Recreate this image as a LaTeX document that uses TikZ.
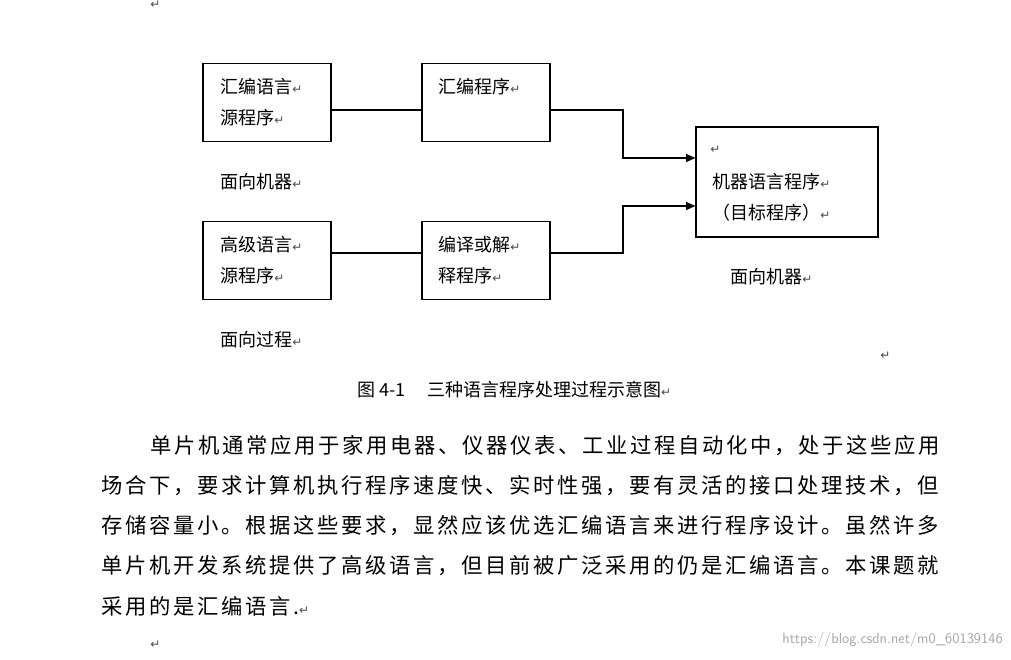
\documentclass[tikz,border=0pt]{standalone}
\usepackage{fontspec}
\setmainfont{Liberation Serif}
\newfontfamily\cjk{Noto Sans CJK SC}
\newfontfamily\cjkp[LetterSpace=12.5]{Noto Sans CJK SC}
\newfontfamily\sym{DejaVu Sans}
\newcommand{\rt}{{\sym\fontsize{9pt}{9pt}\selectfont\textcolor{black!70}{↵}}}
\usetikzlibrary{arrows.meta}
\begin{document}
\begin{tikzpicture}[x=0.75pt,y=-0.75pt,
  bx/.style={draw,line width=0.9pt},
  tx/.style={anchor=west,inner sep=0pt,font=\cjk\fontsize{13.5pt}{17pt}\selectfont},
  ln/.style={line width=0.9pt},
  ar/.style={ln,-{Triangle[length=7pt,width=6pt]}},
  pl/.style={anchor=west,inner sep=0pt,font=\cjkp\fontsize{16pt}{18pt}\selectfont}]
\useasboundingbox[fill=white] (0,0) rectangle (1011,660);
\node[bx,minimum width=96pt,minimum height=59pt,inner sep=0pt] (A) at (267,102.5) {};
\node[bx,minimum width=96pt,minimum height=59pt,inner sep=0pt] (B) at (486,102.5) {};
\node[bx,minimum width=136.5pt,minimum height=82.5pt,inner sep=0pt] (C) at (787,182) {};
\node[bx,minimum width=96pt,minimum height=59pt,inner sep=0pt] (D) at (267,260.5) {};
\node[bx,minimum width=96pt,minimum height=59pt,inner sep=0pt] (E) at (486,260.5) {};
\node[tx] (a1) at (220,87) {汇编语言\rt};
\node[tx] (a2) at (220,118) {源程序\rt};
\node[tx] (b1) at (438,87) {汇编程序\rt};
\node[tx] (c0) at (710,150) {\rt};
\node[tx] (c1) at (712,182) {机器语言程序\rt};
\node[tx] (c2) at (712,213) {（目标程序）\rt};
\node[tx] (d1) at (220,245) {高级语言\rt};
\node[tx] (d2) at (220,276) {源程序\rt};
\node[tx] (e1) at (438,245) {编译或解\rt};
\node[tx] (e2) at (438,276) {释程序\rt};
\node[tx] (l1) at (220,182) {面向机器\rt};
\node[tx] (l2) at (730,277) {面向机器\rt};
\node[tx] (l3) at (220,340) {面向过程\rt};
\node[tx] (r1) at (150,5) {\rt};
\node[tx] (r2) at (880,356) {\rt};
\node[tx] (cap) at (357,390) {图 4-1\hspace{1.2em}三种语言程序处理过程示意图\rt};
\coordinate (m1) at (623,110);
\coordinate (m2) at (623,253);
\draw[ln] (A.east|-m1) -- (B.west|-m1);
\draw[ar] (B.east|-m1) -- (m1) -- (623,158) -- (C.west|-{(0,158)});
\draw[ln] (D.east|-m2) -- (E.west|-m2);
\draw[ar] (E.east|-m2) -- (m2) -- (623,206) -- (C.west|-{(0,206)});
\node[pl] (p1) at (150,446) {单片机通常应用于家用电器、仪器仪表、工业过程自动化中，处于这些应用};
\node[pl] (p2) at (101,486) {场合下，要求计算机执行程序速度快、实时性强，要有灵活的接口处理技术，但};
\node[pl] (p3) at (101,526) {存储容量小。根据这些要求，显然应该优选汇编语言来进行程序设计。虽然许多};
\node[pl] (p4) at (101,566) {单片机开发系统提供了高级语言，但目前被广泛采用的仍是汇编语言。本课题就};
\node[pl] (p5) at (101,606) {采用的是汇编语言.\rt};
\node[tx] (r3) at (150,645) {\rt};
\node[anchor=east,inner sep=0pt,text=black!35,font=\sffamily\fontsize{11pt}{12pt}\selectfont] (wm) at (1003,640) {https://blog.csdn.net/m0\_60139146};
\end{tikzpicture}
\end{document}
